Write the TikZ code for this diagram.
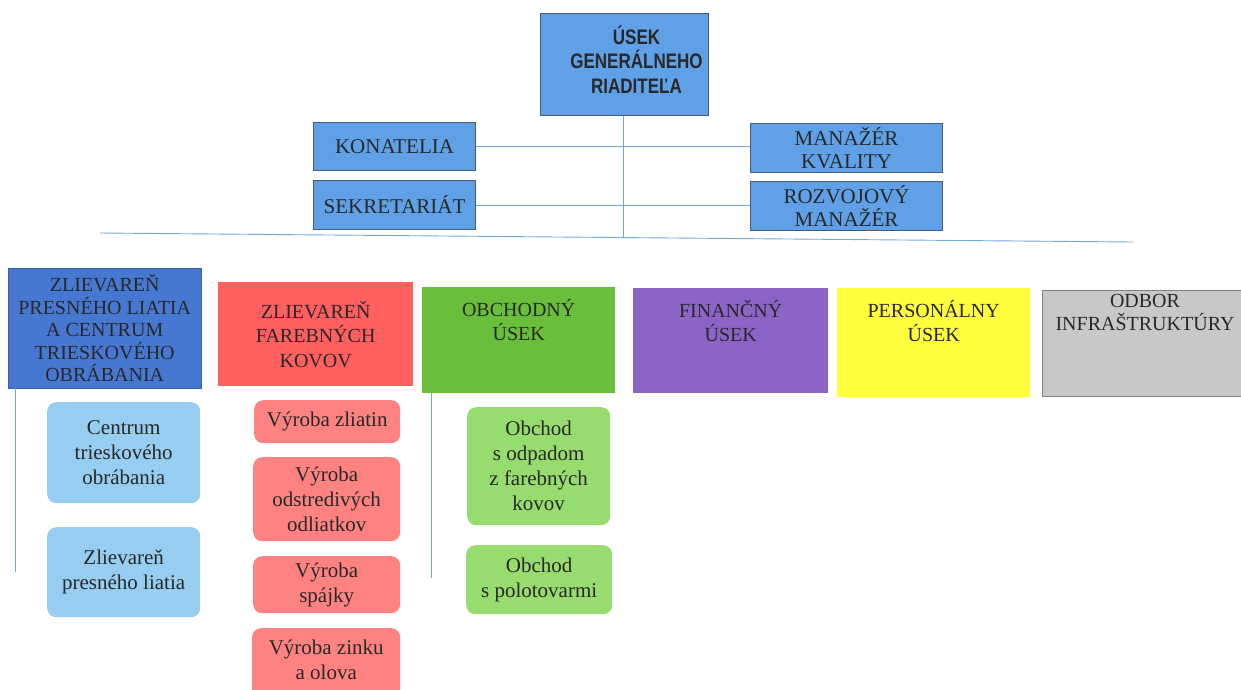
\documentclass[tikz,border=0pt]{standalone}
\usepackage{fontspec}
\setmainfont{Liberation Serif}
\newfontfamily\topfont{Liberation Sans}
\definecolor{topblue}{RGB}{95,160,230}
\definecolor{topborder}{RGB}{70,90,120}
\definecolor{linecol}{RGB}{110,170,220}
\definecolor{hblue}{RGB}{70,120,210}
\definecolor{hred}{RGB}{255,95,95}
\definecolor{hgreen}{RGB}{105,190,60}
\definecolor{hpurple}{RGB}{140,100,200}
\definecolor{hyellow}{RGB}{255,255,60}
\definecolor{hgrey}{RGB}{200,200,200}
\definecolor{sblue}{RGB}{150,205,240}
\definecolor{sred}{RGB}{255,130,130}
\definecolor{sgreen}{RGB}{150,220,110}
\definecolor{txt}{RGB}{40,40,40}
\begin{document}
\begin{tikzpicture}[x=1pt,y=-1pt,
  box/.style={draw=topborder,line width=1pt,fill=topblue,text=txt,align=center,
    font=\fontsize{21}{23}\selectfont,inner sep=0pt},
  head/.style={fill=#1,text=txt,align=center,anchor=north west,inner sep=0pt,
    font=\fontsize{20}{22.5}\selectfont},
  htxt/.style={anchor=north,text=txt,align=center,inner sep=0pt,
    font=\fontsize{20}{24.5}\selectfont},
  sub/.style={fill=#1,rounded corners=9pt,text=txt,align=center,anchor=north west,
    inner sep=0pt,font=\fontsize{21}{25}\selectfont},
  conn/.style={draw=linecol,line width=0.9pt}]
\useasboundingbox (0,0) rectangle (1241,689);
% top
\node[box,anchor=north west,minimum width=168pt,minimum height=102pt] (gr) at (540,13) {};
\node[text=txt,align=center,inner sep=0pt,font=\topfont\bfseries\fontsize{21}{24.5}\selectfont]
  (grt) at (gr.center) [xshift=12pt,yshift=5pt]
  {\scalebox{0.81}[1]{ÚSEK}\\\scalebox{0.81}[1]{GENERÁLNEHO}\\\scalebox{0.81}[1]{RIADITEĽA}};
\node[box,anchor=north west,minimum width=162pt,minimum height=48pt] (kon) at (313,122) {KONATELIA};
\node[box,anchor=north west,minimum width=162pt,minimum height=49pt] (sek) at (313,180) {SEKRETARIÁT};
\node[box,anchor=north west,minimum width=192pt,minimum height=49pt] (mk) at (750,123) {MANAŽÉR\\KVALITY};
\node[box,anchor=north west,minimum width=192pt,minimum height=49pt] (rm) at (750,181) {ROZVOJOVÝ\\MANAŽÉR};
\coordinate (hl) at (100,233);
\coordinate (hr) at (1133,242);
\coordinate (vb) at (623,238);
\draw[conn] (vb |- gr.south) -- (vb);
\draw[conn] (kon.east) -- (kon.east -| mk.west);
\draw[conn] (sek.east) -- (sek.east -| rm.west);
\draw[conn] (hl) -- (hr);
% header row
\node[head=hblue,draw=hblue!80!black,minimum width=193pt,minimum height=120pt] (h1) at (8,268)
  {ZLIEVAREŇ\\PRESNÉHO LIATIA\\A CENTRUM\\TRIESKOVÉHO\\OBRÁBANIA};
\node[head=hred,minimum width=195pt,minimum height=104pt,font=\fontsize{20}{24.5}\selectfont] (h2) at (218,282)
  {ZLIEVAREŇ\\FAREBNÝCH\\KOVOV};
\node[head=hgreen,minimum width=193pt,minimum height=106pt] (h3) at (422,287) {};
\node[htxt] (t3) at (h3.north) [yshift=-12pt] {OBCHODNÝ\\ÚSEK};
\node[head=hpurple,minimum width=195pt,minimum height=105pt] (h4) at (633,288) {};
\node[htxt] (t4) at (h4.north) [yshift=-12pt] {FINANČNÝ\\ÚSEK};
\node[head=hyellow,minimum width=193pt,minimum height=109pt] (h5) at (837,288) {};
\node[htxt] (t5) at (h5.north) [yshift=-12pt] {PERSONÁLNY\\ÚSEK};
\node[head=hgrey,draw=gray,minimum width=210pt,minimum height=106pt] (h6) at (1042,290) {};
\node[htxt,font=\fontsize{20}{23}\selectfont] (t6) at (1145,294) {ODBOR\\INFRAŠTRUKTÚRY};
\coordinate (v1) at (15,572);
\coordinate (v3) at (431,578);
\draw[conn] (h1.south west -| v1) -- (v1);
\draw[conn] (h3.south west -| v3) -- (v3);
% sub boxes
\node[sub=sblue,minimum width=153pt,minimum height=101pt] (b1) at (47,402) {Centrum\\trieskového\\obrábania};
\node[sub=sblue,minimum width=153pt,minimum height=90pt] (b2) at (47,527) {Zlievareň\\presného liatia};
\node[sub=sred,minimum width=146pt,minimum height=43pt] (r1) at (254,400) {Výroba zliatin};
\node[sub=sred,minimum width=147pt,minimum height=84pt] (r2) at (253,457) {Výroba\\odstredivých\\odliatkov};
\node[sub=sred,minimum width=147pt,minimum height=57pt] (r3) at (253,556) {Výroba\\spájky};
\node[sub=sred,minimum width=148pt,minimum height=72pt] (r4) at (252,628) {};
\node[htxt,font=\fontsize{21}{25}\selectfont] (t4r) at (r4.north) [yshift=-12pt] {Výroba zinku\\a olova};
\node[sub=sgreen,minimum width=143pt,minimum height=118pt] (g1) at (467,407) {Obchod\\s odpadom\\z farebných\\kovov};
\node[sub=sgreen,minimum width=146pt,minimum height=69pt] (g2) at (466,545) {Obchod\\s polotovarmi};
\end{tikzpicture}
\end{document}
